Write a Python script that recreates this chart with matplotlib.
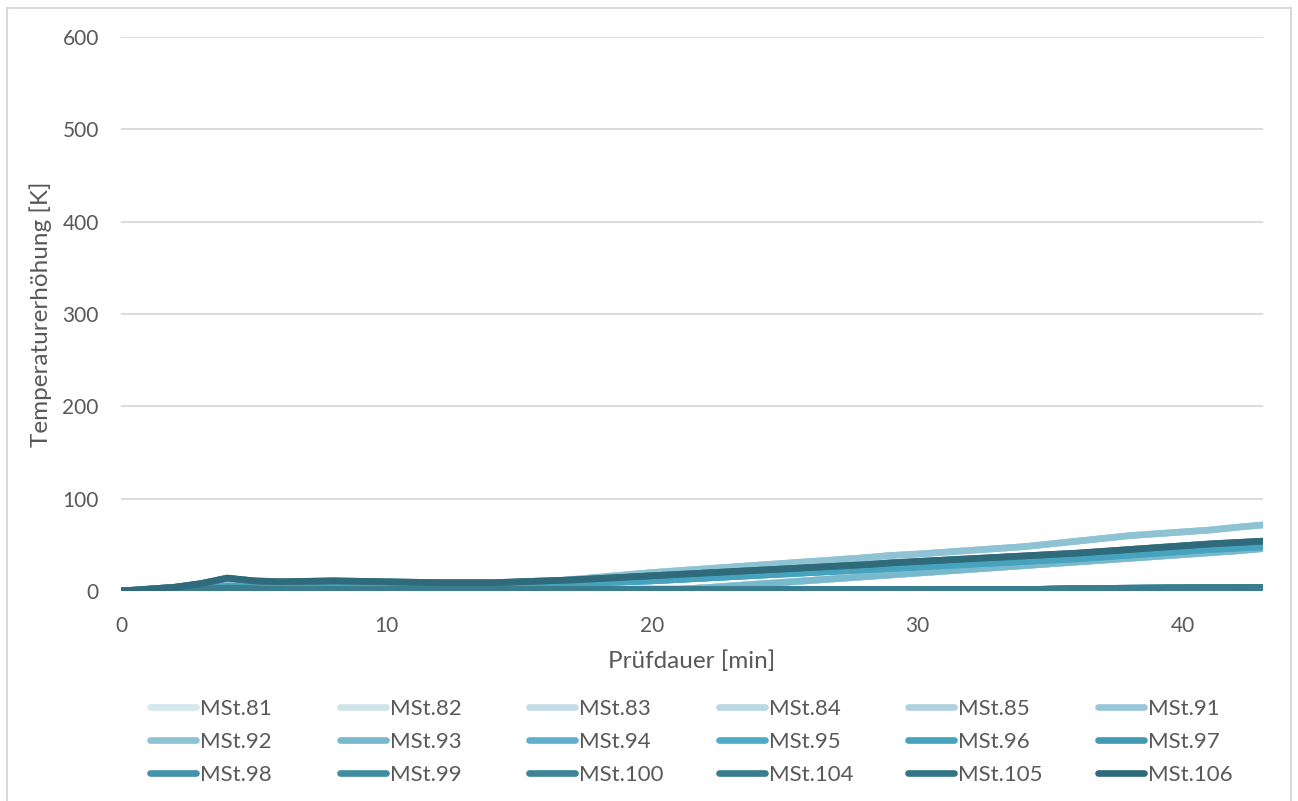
import matplotlib
matplotlib.use("Agg")
import matplotlib.pyplot as plt
from matplotlib.lines import Line2D
from matplotlib.patches import Rectangle

plt.rcParams['font.family'] = ['Lato', 'DejaVu Sans']

# ---- data ----
minutes = list(range(0, 44))

top_curve = [0, 2, 4, 6, 8, 7, 6, 6, 6, 6, 6, 6, 6, 6.5, 7, 8.5, 10, 12.5, 15, 17.5,
             20, 22, 24, 26, 28, 30, 32, 34, 36, 38.5, 40, 42, 44, 46, 48, 51, 54, 57,
             60, 62, 64, 66, 69, 71.5]
dark_curve = [0, 2, 4, 8, 14, 11, 10, 10.5, 11, 10.5, 10, 9.5, 9, 9, 9, 10, 11, 12,
              13.5, 15, 16.5, 18, 19.5, 21, 22.5, 24, 25.5, 27, 28.5, 30.5, 32, 33.5,
              35, 36.5, 38, 39.5, 41, 43, 45, 47, 49, 51, 52.5, 54]
mid_curve = [0, 1, 2, 3, 5, 4, 4, 4, 4, 4, 4, 4, 4, 4, 4.5, 6, 7, 8, 9, 10, 11, 12.5,
             14, 15.5, 17, 18.5, 20, 21.5, 23, 24.5, 26, 27.5, 29, 30.5, 32, 33.5, 35,
             37, 39, 41, 43, 45, 46.5, 48]
late_curve = [0, 0.5, 1, 1.5, 3, 2, 2, 2, 2, 2, 2, 2, 2, 2, 2, 2, 2, 2, 2, 2, 2, 2,
              3.5, 5.5, 7.5, 9.5, 11.5, 13.5, 15.5, 17.5, 19.5, 21.5, 23.5, 25.5, 27.5,
              29.5, 31.5, 33.5, 35.5, 37.5, 39.5, 41.5, 43.5, 46]
low_curve = [0, 0.5, 1, 1.5, 3, 2, 1.5, 1.5, 1.5, 1.5, 1.5, 1.5, 1.5, 1.5, 1.5, 1.5,
             1.5, 1.5, 1.5, 1.5, 1.5, 1.5, 1.5, 1.5, 1.5, 1.5, 1.5, 1.5, 1.5, 1.5, 1.5,
             1.5, 1.5, 1.5, 1.5, 2, 2.5, 2.8, 3, 3.2, 3.4, 3.5, 3.6, 3.7]

series_names = ['MSt.81', 'MSt.82', 'MSt.83', 'MSt.84', 'MSt.85', 'MSt.91',
                'MSt.92', 'MSt.93', 'MSt.94', 'MSt.95', 'MSt.96', 'MSt.97',
                'MSt.98', 'MSt.99', 'MSt.100', 'MSt.104', 'MSt.105', 'MSt.106']
series_values = [late_curve, late_curve, late_curve, late_curve, late_curve, top_curve,
                 top_curve, late_curve, mid_curve, mid_curve, mid_curve, low_curve,
                 low_curve, low_curve, low_curve, low_curve, dark_curve, dark_curve]
series_colors = ['#d6e7ee', '#cfe3ea', '#c4dde6', '#bad8e2', '#afd2de', '#9ac7d7',
                 '#8ec3d4', '#78b9cd', '#5fb1cb', '#4eaac6', '#46a2bd', '#4499b2',
                 '#4292a9', '#3f8ba0', '#3c8497', '#397d8e', '#347585', '#2f6b7a']

x_ticks = [0, 10, 20, 30, 40]
y_ticks = [0, 100, 200, 300, 400, 500, 600]

W, H = 1298, 801
fig = plt.figure(figsize=(W / 100, H / 100), dpi=100)
fig.patch.set_facecolor('white')

fig.add_artist(Rectangle((7 / W, -0.01), (1291 - 7) / W, (H - 8) / H + 0.01,
                         transform=fig.transFigure, fill=False,
                         edgecolor='#d9d9d9', linewidth=1.5))

ax = fig.add_axes([121 / W, 1 - 591 / H, (1263 - 121) / W, (591 - 37) / H])
for name, vals, col in zip(series_names, series_values, series_colors):
    ax.plot(minutes, vals, color=col, lw=4.8, solid_capstyle='round',
            solid_joinstyle='round', label=name, zorder=3)

ax.set_xlim(0, 43)
ax.set_ylim(0, 600)
ax.set_xticks(x_ticks)
ax.set_yticks(y_ticks)
ax.grid(axis='y', color='#d9d9d9', lw=1.3, zorder=0)
ax.set_axisbelow(True)
for s in ax.spines.values():
    s.set_visible(False)
ax.tick_params(length=0, colors='#595959', labelsize=15)
ax.tick_params(axis='x', pad=18)
ax.tick_params(axis='y', pad=16)
ax.set_xlabel('Prüfdauer [min]', fontsize=17.5, color='#595959', va='center')
ax.set_ylabel('Temperaturerhöhung [K]', fontsize=17.5, color='#595959', va='center')
ax.xaxis.set_label_coords(0.5, (591 - 661) / 554)
ax.yaxis.set_label_coords((41 - 121) / 1142, 0.5)

# legend, laid out like the source chart
x0, dx = 150, 189.6
y0, dy = 707, 33
for i, (name, col) in enumerate(zip(series_names, series_colors)):
    r, c = divmod(i, 6)
    lx = x0 + c * dx
    ly = y0 + r * dy
    fig.add_artist(Line2D([lx / W, (lx + 46) / W], [1 - ly / H, 1 - ly / H],
                          transform=fig.transFigure, color=col, lw=4.8,
                          solid_capstyle='round'))
    fig.text((lx + 50) / W, 1 - ly / H, name, fontsize=16, color='#595959',
             ha='left', va='center_baseline')

fig.savefig('out.png', dpi=100)
